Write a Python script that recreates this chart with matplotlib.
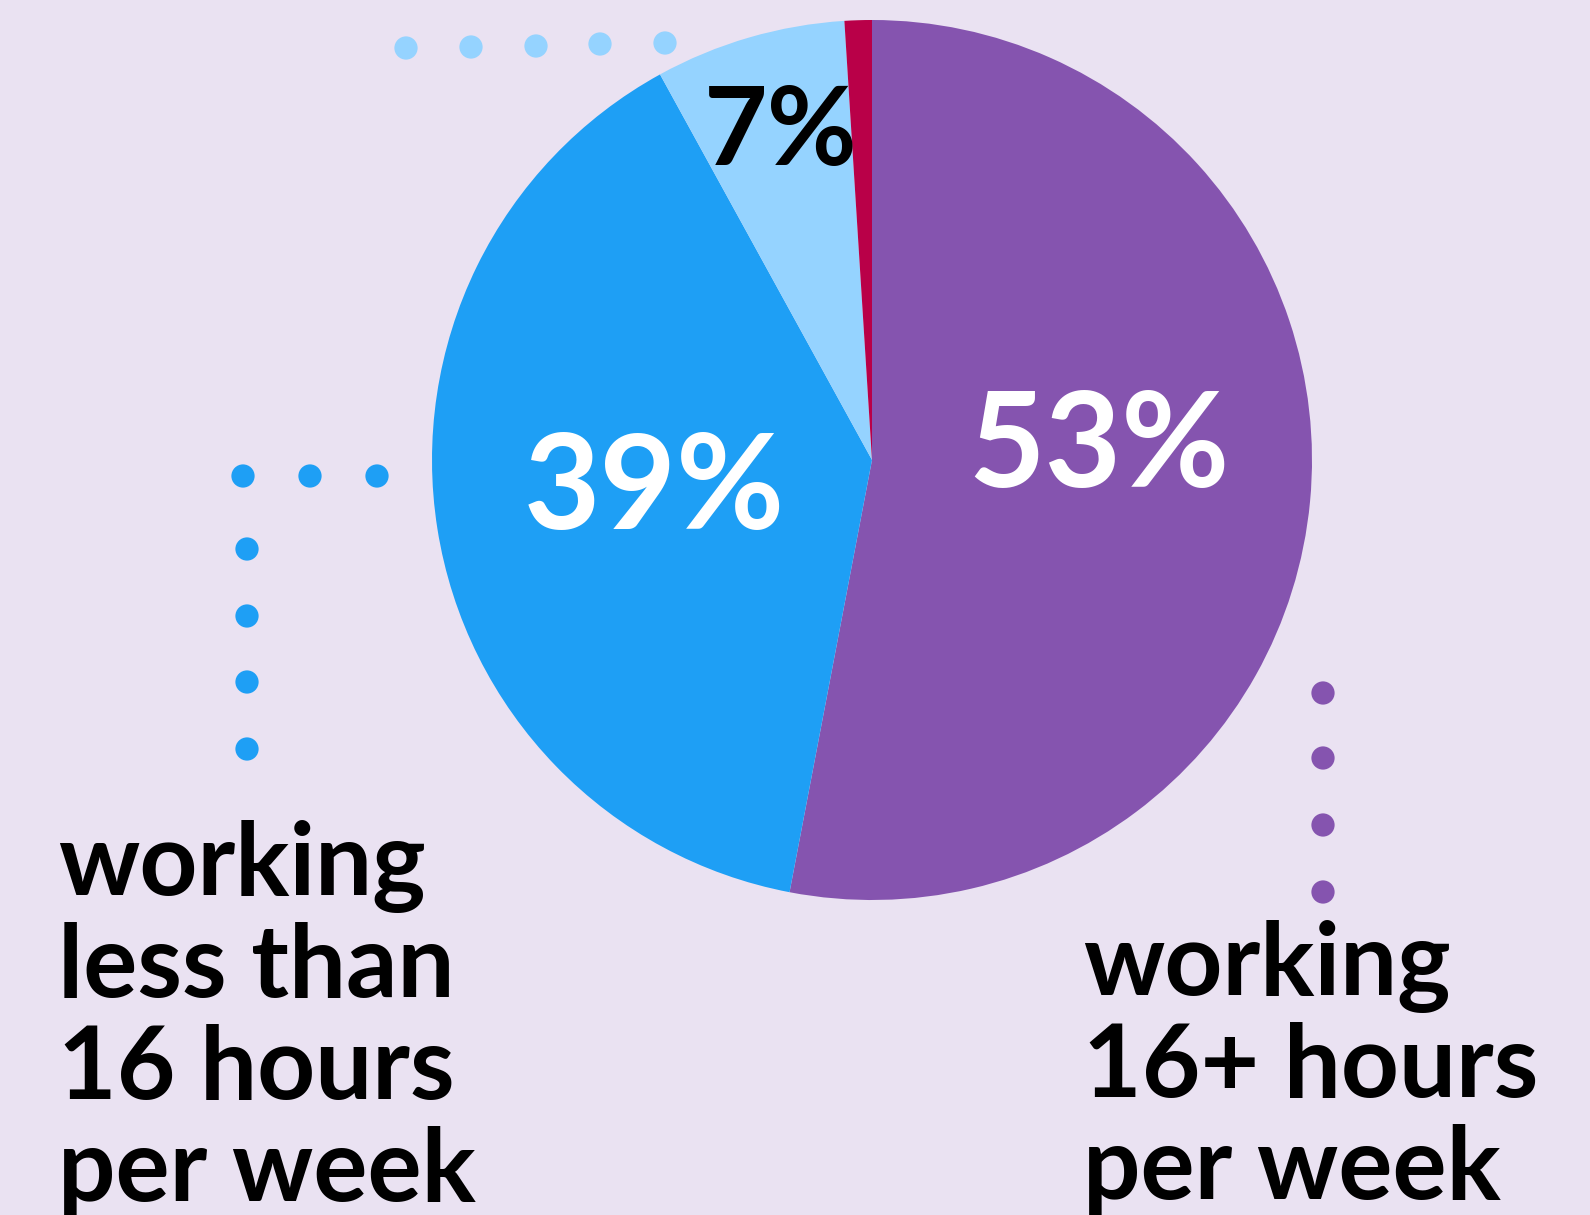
import matplotlib
matplotlib.use("Agg")
import matplotlib.pyplot as plt
import numpy as np

BG = "#EAE2F2"
PURPLE = "#8554AF"; BLUE = "#1E9FF5"; LBLUE = "#95D3FF"; RED = "#B90048"

# share of respondents, clockwise from 12 o'clock
shares = [53, 39, 7, 1]
slice_colors = [PURPLE, BLUE, LBLUE, RED]
pct_colors = ["white", "white", "black", None]

plt.rcParams.update({"font.family": ["Lato", "DejaVu Sans"]})

W, H = 1590, 1215
fig = plt.figure(figsize=(W / 100, H / 100), dpi=100, facecolor=BG)
ax = fig.add_axes([0, 0, 1, 1])

cx, cy, r = 872, 755, 440
wedges, _ = ax.pie(shares, colors=slice_colors, startangle=90, counterclock=False,
                   center=(cx, cy), radius=r, frame=True,
                   wedgeprops=dict(linewidth=0))
ax.set_xlim(0, W); ax.set_ylim(0, H); ax.set_aspect("equal"); ax.axis("off")

# percentage labels (x centre, baseline, size)
pct_pos = [(1099, 728, 95), (654, 686, 95), (781, 1050, 79), None]
for v, col, pos in zip(shares, pct_colors, pct_pos):
    if pos is None:
        continue
    x, y, fs = pos
    ax.text(x, y, f"{v}%", color=col, fontsize=fs, fontweight="bold",
            ha="center", va="baseline")

# dotted leaders
def dots(xs, ys, color):
    ax.scatter(xs, ys, s=280, color=color, edgecolors="none", zorder=3)

dots([406, 471, 536, 600, 665], [H - y for y in [48, 47, 46, 44, 43]], LBLUE)
dots([243, 310, 377], [H - 476] * 3, BLUE)
dots([247] * 4, [H - y for y in [549, 616, 682, 749]], BLUE)
dots([1323] * 4, [H - y for y in [693, 758, 825, 892]], PURPLE)

left_lines = ["working", "less than", "16 hours", "per week"]
for i, t in enumerate(left_lines):
    ax.text(58, 320 - i * 102, t, fontsize=73, fontweight="bold", color="black",
            ha="left", va="baseline")

right_lines = ["working", "16+ hours", "per week"]
for i, t in enumerate(right_lines):
    ax.text(1083, 220 - i * 102, t, fontsize=73, fontweight="bold", color="black",
            ha="left", va="baseline")

fig.savefig("out.png", dpi=100, facecolor=BG)
